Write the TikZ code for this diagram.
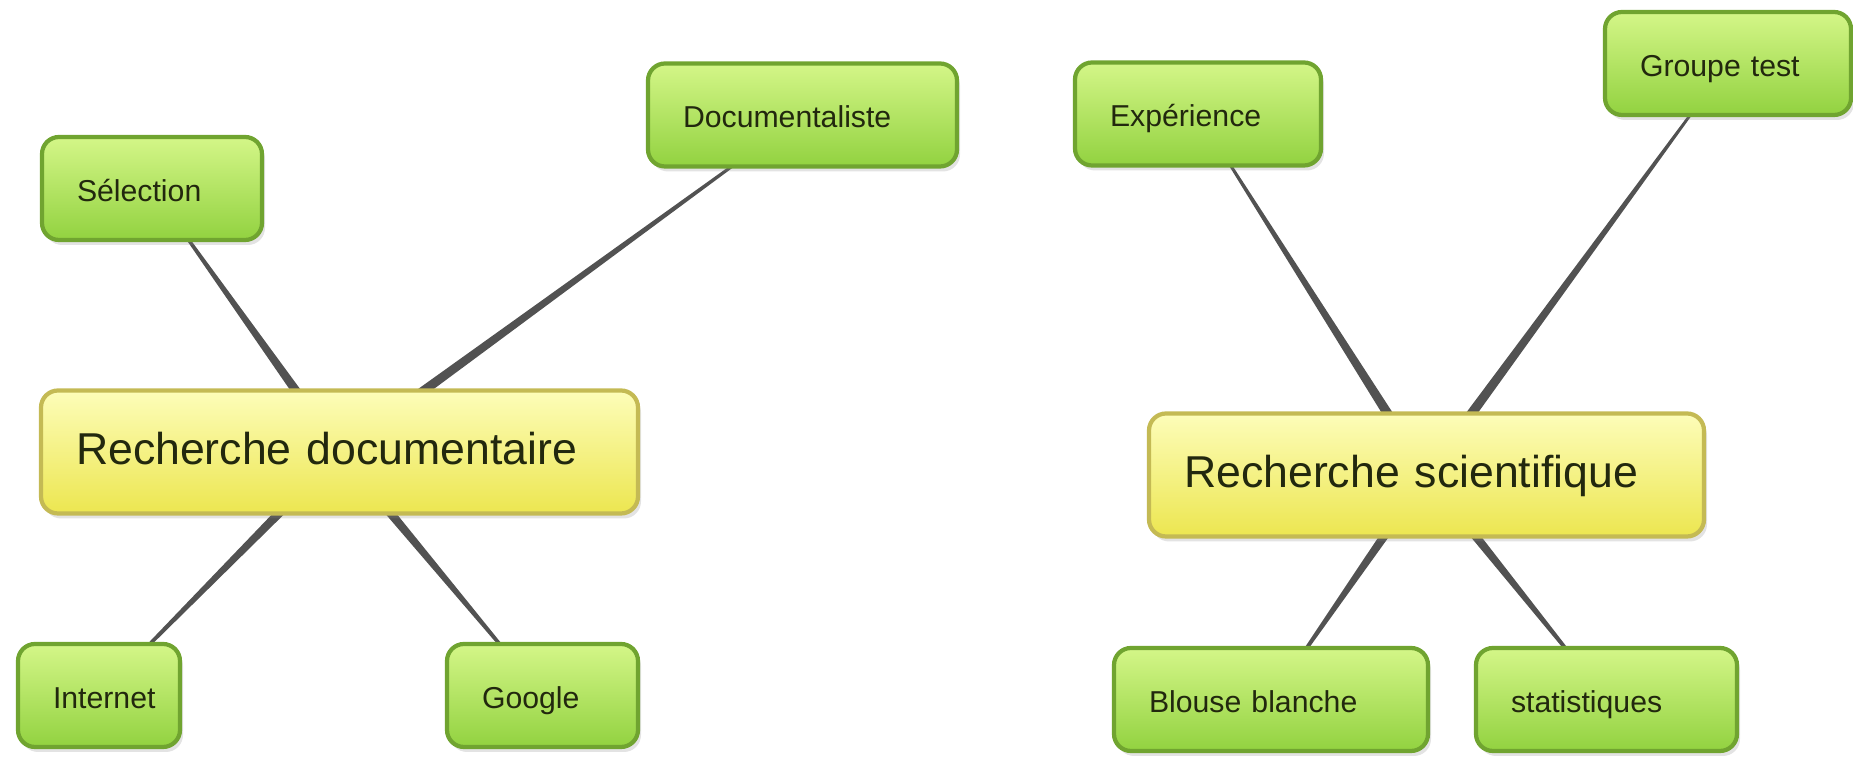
\documentclass[tikz,border=0pt]{standalone}
\usepackage{fontspec}
\setmainfont{Liberation Sans}
\usetikzlibrary{calc,shadows,backgrounds}
\definecolor{leaftop}{RGB}{212,246,136}
\definecolor{leafbot}{RGB}{146,210,64}
\definecolor{leafrim}{RGB}{112,164,48}
\definecolor{hubtop}{RGB}{253,253,185}
\definecolor{hubbot}{RGB}{236,230,80}
\definecolor{hubrim}{RGB}{196,186,84}
\definecolor{spokegray}{RGB}{82,82,82}
\definecolor{ink}{RGB}{34,40,14}
\newcommand{\spoke}[2]{\fill[spoke] ($(#1.center)!0.055cm!90:(#2.center)$) --
  ($(#2.center)!0.008cm!-90:(#1.center)$) -- ($(#2.center)!0.008cm!90:(#1.center)$) --
  ($(#1.center)!0.055cm!-90:(#2.center)$) -- cycle;}

\begin{document}
\begin{tikzpicture}[
    leaf/.style={draw=leafrim, line width=1.2pt, rounded corners=0.17cm,
      top color=leaftop, bottom color=leafbot, text=ink, align=left,
      font=\fontsize{8.6}{10}\selectfont, inner xsep=0.35cm, inner ysep=0pt,
      text height=1.38ex, text depth=0pt, minimum height=1.03cm,
      drop shadow={opacity=0.22, shadow xshift=0.03cm, shadow yshift=-0.05cm}},
    hub/.style={leaf, draw=hubrim, top color=hubtop, bottom color=hubbot,
      font=\fontsize{12.7}{15}\selectfont, minimum height=1.23cm},
    spoke/.style={fill=spokegray}]
  \useasboundingbox (0,0) rectangle (18.53,7.57);
  % left map
  \node[hub, text width=5.27cm] (rdoc) at (3.395,3.05) {Recherche documentaire};
  \node[leaf, text width=1.50cm] (sel) at (1.52,5.685) {Sélection};
  \node[leaf, text width=2.39cm] (docu) at (8.025,6.42) {Documentaliste};
  \node[leaf, text width=0.92cm] (inet) at (0.99,0.615) {Internet};
  \node[leaf, text width=1.21cm] (goog) at (5.425,0.615) {Google};
  % right map
  \node[hub, text width=4.85cm] (rsci) at (14.265,2.82) {Recherche scientifique};
  \node[leaf, text width=1.76cm] (exper) at (11.98,6.43) {Expérience};
  \node[leaf, text width=1.76cm] (gtest) at (17.28,6.935) {Groupe test};
  \node[leaf, text width=2.44cm] (blouse) at (12.71,0.575) {Blouse blanche};
  \node[leaf, text width=1.91cm] (stats) at (16.065,0.575) {statistiques};
  \begin{scope}[on background layer]
    \foreach \hubname/\leafname in {rdoc/sel,rdoc/docu,rdoc/inet,rdoc/goog,
        rsci/exper,rsci/gtest,rsci/blouse,rsci/stats}
      \spoke{\hubname}{\leafname};
  \end{scope}
\end{tikzpicture}
\end{document}
